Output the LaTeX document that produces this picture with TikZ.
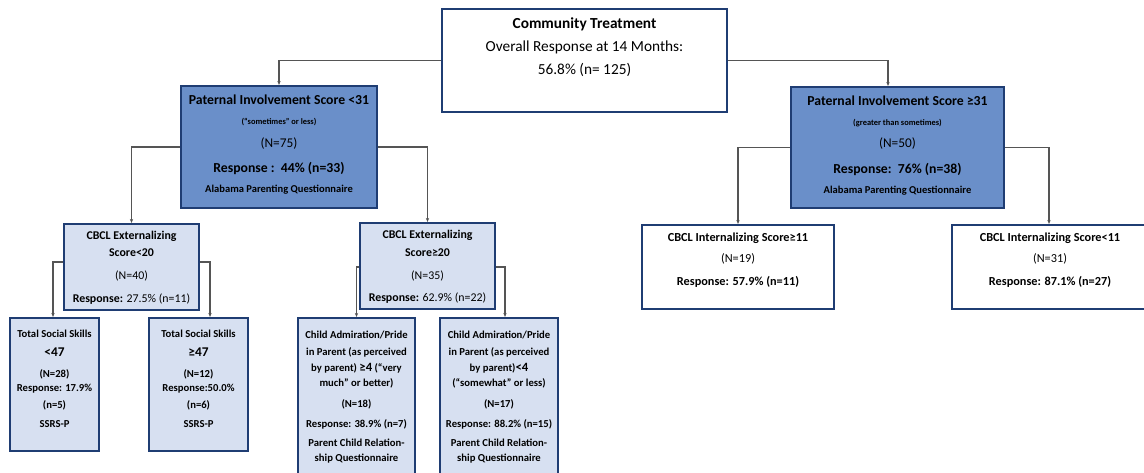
\documentclass[tikz,border=0pt]{standalone}
\usepackage{fontspec}
\setmainfont{Carlito}
\usetikzlibrary{fit,arrows.meta}
\definecolor{boxblue}{HTML}{1F3D73}
\definecolor{pfill}{HTML}{6A8FC9}
\definecolor{lfill}{HTML}{D7E0F1}
\definecolor{conngray}{HTML}{555555}
\begin{document}
\begin{tikzpicture}[x=0.75pt,y=-0.75pt,
  box/.style={draw=boxblue, line width=1.6pt, inner sep=0pt},
  conn/.style={draw=conngray, line width=0.8pt, -{Stealth[length=3pt,width=2.5pt]}},
  fA/.style={inner sep=0pt, font=\fontsize{11.5}{13}\selectfont},
  fAb/.style={inner sep=0pt, font=\fontsize{11.5}{13}\selectfont\bfseries},
  fP/.style={inner sep=0pt, font=\fontsize{10}{12}\selectfont},
  fPb/.style={inner sep=0pt, font=\fontsize{10.3}{12}\selectfont\bfseries},
  fPs/.style={inner sep=0pt, font=\fontsize{6.3}{7.5}\selectfont\bfseries},
  fPa/.style={inner sep=0pt, font=\fontsize{7.9}{9}\selectfont\bfseries},
  fE/.style={inner sep=0pt, font=\fontsize{8.9}{10}\selectfont},
  fEb/.style={inner sep=0pt, font=\fontsize{8.9}{10}\selectfont\bfseries},
  fI/.style={inner sep=0pt, font=\fontsize{9.2}{10}\selectfont},
  fIb/.style={inner sep=0pt, font=\fontsize{9.2}{10}\selectfont\bfseries},
  fS/.style={inner sep=0pt, font=\fontsize{8}{9}\selectfont\bfseries},
  fSbig/.style={inner sep=0pt, font=\fontsize{10}{12}\selectfont\bfseries}
]
\useasboundingbox[fill=white] (0,0) rectangle (1144,472);

% boxes
\node[box, fill=white, fit={(442,9) (727,112)}] (top) {};
\node[box, fill=pfill, fit={(181,86) (377,208)}] (PL) {};
\node[box, fill=pfill, fit={(791,87) (1004,208)}] (PR) {};
\node[box, fill=lfill, fit={(64,224) (199,310)}] (E1) {};
\node[box, fill=lfill, fit={(360,223) (495,309)}] (E2) {};
\node[box, fill=white, fit={(642,225) (834,309)}] (I1) {};
\node[box, fill=white, fit={(952,225) (1148,309)}] (I2) {};
\node[box, fill=lfill, fit={(10,318) (99,451)}] (S1) {};
\node[box, fill=lfill, fit={(149,318) (248,451)}] (S2) {};
\node[box, fill=lfill, fit={(298,318) (415,480)}] (C1) {};
\node[box, fill=lfill, fit={(440,318) (558,480)}] (C2) {};

% connectors
\draw[conn] (top.west) -| (PL.north);
\draw[conn] (top.east) -| (PR.north -| 888,0);
\draw[conn] (PL.west) -| (E1.north);
\draw[conn] (PL.east) -| (E2.north);
\draw[conn] (PR.west) -| (I1.north);
\draw[conn] (PR.east) -| (I2.north -| 1049,0);
\draw[conn] (E1.west |- 0,262) -| (S1.north -| 53,0);
\draw[conn] (E1.east |- 0,262) -| (S2.north -| 210,0);
\draw[conn] (E2.west |- 0,267) -| (C1.north);
\draw[conn] (E2.east |- 0,267) -| (C2.north -| 505,0);

% top text
\node[fAb] (t1) at (584.5,24) {Community Treatment};
\node[fA] (t2) at (584.5,47) {Overall Response at 14 Months:};
\node[fA] (t3) at (584.5,70) {56.8\% (n= 125)};

% paternal left
\node[fPb] (pl1) at (279,100) {Paternal Involvement Score <31};
\node[fPs] (pl2) at (279,122) {(“sometimes” or less)};
\node[fP] (pl3) at (279,144) {(N=75)};
\node[fPb] (pl4) at (279,168) {Response :\ \ 44\% (n=33)};
\node[fPa] (pl5) at (279,190) {Alabama Parenting Questionnaire};

% paternal right
\node[fPb] (pr1) at (897.5,101) {Paternal Involvement Score ≥31};
\node[fPs] (pr2) at (897.5,123) {(greater than sometimes)};
\node[fP] (pr3) at (897.5,144) {(N=50)};
\node[fPb] (pr4) at (897.5,169) {Response:\ \ 76\% (n=38)};
\node[fPa] (pr5) at (897.5,191) {Alabama Parenting Questionnaire};

% externalizing
\node[fEb] (e11) at (131.5,236) {CBCL Externalizing};
\node[fEb] (e12) at (131.5,253) {Score<20};
\node[fE] (e13) at (131.5,276) {(N=40)};
\node[fE] (e14) at (131.5,299) {\textbf{Response:} 27.5\% (n=11)};

\node[fEb] (e21) at (427.5,235) {CBCL Externalizing};
\node[fEb] (e22) at (427.5,253) {Score≥20};
\node[fE] (e23) at (427.5,276) {(N=35)};
\node[fE] (e24) at (427.5,298) {\textbf{Response:} 62.9\% (n=22)};

% internalizing
\node[fIb] (i11) at (738,238) {CBCL Internalizing Score≥11};
\node[fI] (i12) at (738,259) {(N=19)};
\node[fIb] (i13) at (738,282) {Response: 57.9\% (n=11)};

\node[fIb] (i21) at (1050,238) {CBCL Internalizing Score<11};
\node[fI] (i22) at (1050,259) {(N=31)};
\node[fIb] (i23) at (1050,282) {Response: 87.1\% (n=27)};

% social skills
\node[fS] (s11) at (54.5,334) {Total Social Skills};
\node[fSbig] (s12) at (54.5,352) {<47};
\node[fS] (s13) at (54.5,374) {(N=28)};
\node[fS] (s14) at (54.5,389) {Response: 17.9\%};
\node[fS] (s15) at (54.5,405) {(n=5)};
\node[fS] (s16) at (54.5,424) {SSRS-P};

\node[fS] (s21) at (198.5,334) {Total Social Skills};
\node[fSbig] (s22) at (198.5,352) {≥47};
\node[fS] (s23) at (198.5,374) {(N=12)};
\node[fS] (s24) at (198.5,389) {Response:50.0\%};
\node[fS] (s25) at (198.5,405) {(n=6)};
\node[fS] (s26) at (198.5,424) {SSRS-P};

% child admiration
\node[fS] (c11) at (356.5,335) {Child Admiration/Pride};
\node[fS] (c12) at (356.5,352) {in Parent (as perceived};
\node[fS] (c13) at (356.5,368) {by parent) {\fontsize{9.5}{11}\selectfont ≥4} (“very};
\node[fS] (c14) at (356.5,383) {much” or better)};
\node[fS] (c15) at (356.5,404) {(N=18)};
\node[fS] (c16) at (356.5,424) {Response: 38.9\% (n=7)};
\node[fS] (c17) at (356.5,443) {Parent Child Relation-};
\node[fS] (c18) at (356.5,459) {ship Questionnaire};

\node[fS] (c21) at (499,335) {Child Admiration/Pride};
\node[fS] (c22) at (499,352) {in Parent (as perceived};
\node[fS] (c23) at (499,368) {by parent){\fontsize{9.5}{11}\selectfont <4}};
\node[fS] (c24) at (499,383) {(“somewhat” or less)};
\node[fS] (c25) at (499,404) {(N=17)};
\node[fS] (c26) at (499,424) {Response: 88.2\% (n=15)};
\node[fS] (c27) at (499,443) {Parent Child Relation-};
\node[fS] (c28) at (499,459) {ship Questionnaire};
\end{tikzpicture}
\end{document}
